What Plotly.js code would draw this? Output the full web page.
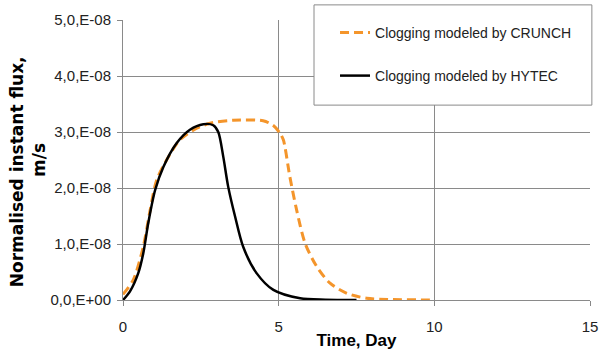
<!DOCTYPE html>
<html>
<head>
<meta charset="utf-8">
<script src="https://cdn.plot.ly/plotly-3.0.1.min.js"></script>
<style>html,body{margin:0;padding:0;background:#fff}#chart{width:599px;height:356px}</style>
</head>
<body>
<div id="chart"></div>
<script>
// Data (time in days, flux in m/s)
const crunchDays = [0, 0.33, 0.65, 0.87, 1.08, 1.4, 1.83, 2.37, 2.9, 3.54, 4.5, 4.82, 5.04, 5.15, 5.36, 5.58, 5.85, 6.22, 6.65, 7.19, 7.83, 8.5, 10];
const crunchFlux = [0.1e-8, 0.36e-8, 0.95e-8, 1.6e-8, 2.14e-8, 2.5e-8, 2.86e-8, 3.07e-8, 3.17e-8, 3.21e-8, 3.2e-8, 3.12e-8, 2.98e-8, 2.86e-8, 2.2e-8, 1.6e-8, 1.01e-8, 0.6e-8, 0.3e-8, 0.12e-8, 0.03e-8, 0.01e-8, 0];
const hytecDays = [0, 0.22, 0.49, 0.65, 0.81, 1.03, 1.3, 1.72, 2.15, 2.58, 2.9, 3.06, 3.22, 3.38, 3.6, 3.86, 4.29, 4.83, 5.69, 6.5, 7.5];
const hytecFlux = [0, 0.15e-8, 0.48e-8, 0.83e-8, 1.37e-8, 1.96e-8, 2.38e-8, 2.8e-8, 3.04e-8, 3.14e-8, 3.12e-8, 3.0e-8, 2.56e-8, 2.02e-8, 1.49e-8, 0.95e-8, 0.48e-8, 0.18e-8, 0.03e-8, 0.005e-8, 0];
const yTickVals = [0, 1e-8, 2e-8, 3e-8, 4e-8, 5e-8];
const yTickText = ['0,0,E+00', '1,0,E-08', '2,0,E-08', '3,0,E-08', '4,0,E-08', '5,0,E-08'];
const xTickVals = [0, 5, 10, 15];
const seriesNames = ['Clogging modeled by CRUNCH', 'Clogging modeled by HYTEC'];

const sans = 'Liberation Sans, Arial, sans-serif';
const traces = [
  {x: crunchDays, y: crunchFlux, mode: 'lines', name: seriesNames[0],
   line: {color: '#F4952B', width: 3, dash: '9px,5px', shape: 'spline', smoothing: 0.8}, legend: 'legend'},
  {x: hytecDays, y: hytecFlux, mode: 'lines', name: seriesNames[1],
   line: {color: '#000000', width: 2.5, shape: 'spline', smoothing: 0.8}, legend: 'legend2'}
];

const layout = {
  width: 599, height: 356,
  margin: {l: 123, r: 9, t: 20, b: 56},
  paper_bgcolor: '#fff', plot_bgcolor: '#fff',
  font: {family: sans, size: 14, color: '#111'},
  showlegend: true,
  xaxis: {
    range: [0, 15], tickvals: xTickVals, ticks: 'outside', ticklen: 5, tickcolor: '#888',
    showgrid: true, gridcolor: '#8a8a8a', gridwidth: 1, zeroline: false,
    showline: true, linecolor: '#8a8a8a', linewidth: 1,
    ticklabelstandoff: 8, automargin: false,
    title: {text: '<b>Time, Day</b>', font: {family: sans, size: 17, color: '#000'}, standoff: 0},
    tickfont: {family: sans, size: 15, color: '#222'}
  },
  yaxis: {
    range: [0, 5e-8], tickvals: yTickVals, ticktext: yTickText, ticks: 'outside', ticklen: 5, tickcolor: '#888',
    showgrid: true, gridcolor: '#8a8a8a', gridwidth: 1, zeroline: false,
    showline: true, linecolor: '#8a8a8a', linewidth: 1,
    ticklabelstandoff: 3, automargin: false,
    title: {text: '<b>Normalised instant flux,\u00a0\u00a0\u00a0\u00a0<br>m/s</b>', font: {family: 'DejaVu Sans, sans-serif', size: 17, color: '#000'}, standoff: 0},
    tickfont: {family: sans, size: 15, color: '#222'}
  },
  shapes: [{type: 'rect', xref: 'paper', yref: 'paper', x0: 0.409, x1: 1.004, y0: 0.696, y1: 1.054,
            line: {color: '#8a8a8a', width: 1}, fillcolor: '#fff', layer: 'above'}],
  legend: {x: 0.454, y: 0.954, xanchor: 'left', yanchor: 'middle', bgcolor: 'rgba(0,0,0,0)', borderwidth: 0, font: {family: sans, size: 14, color: '#222'}},
  legend2: {x: 0.454, y: 0.80, xanchor: 'left', yanchor: 'middle', bgcolor: 'rgba(0,0,0,0)', borderwidth: 0, font: {family: sans, size: 14, color: '#222'}}
};

Plotly.newPlot('chart', traces, layout, {staticPlot: true, displayModeBar: false});
</script>
</body>
</html>
